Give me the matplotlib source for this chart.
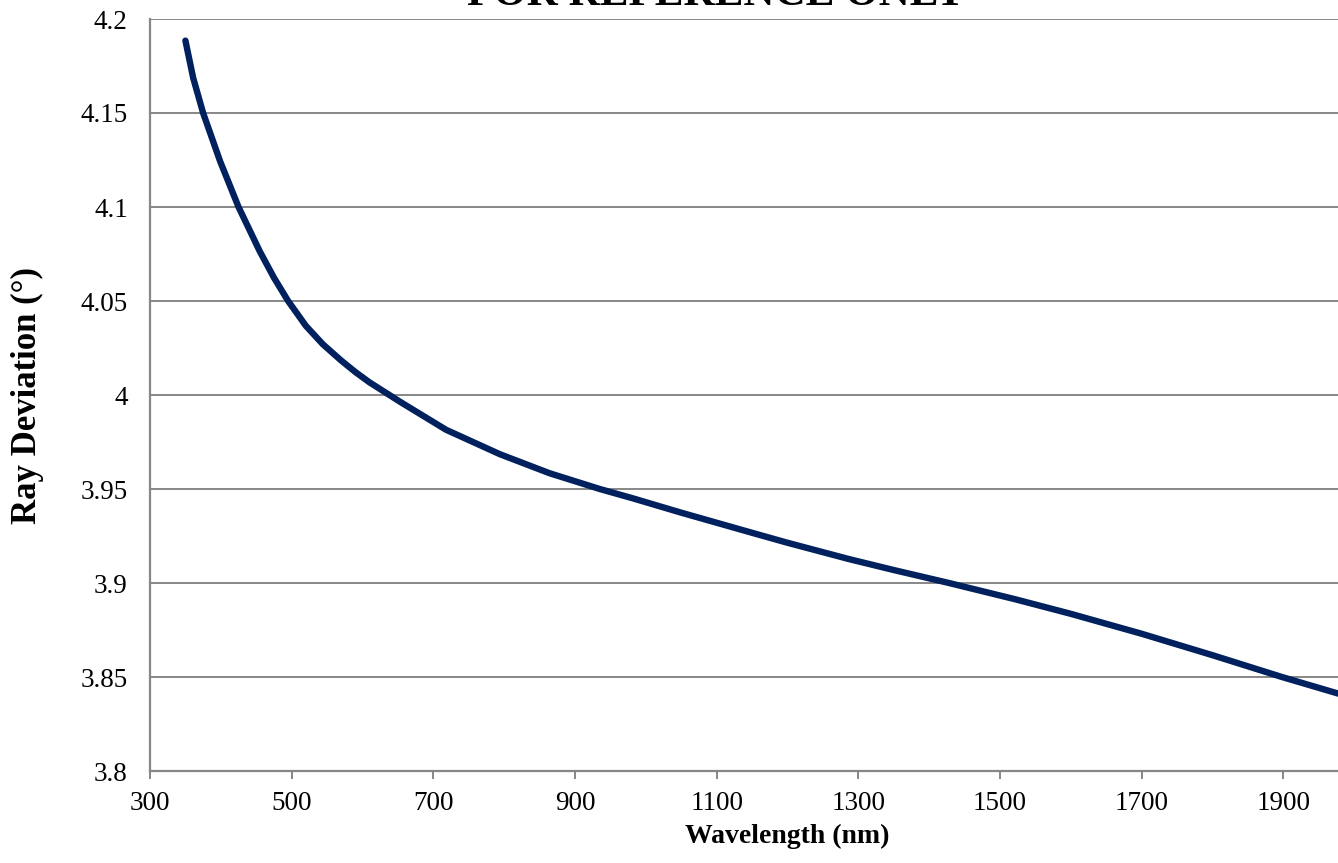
import matplotlib
matplotlib.use("Agg")
import matplotlib.pyplot as plt

# valores
wavelength = [350, 361, 375, 399, 425, 455, 475, 495, 520, 544, 570, 590, 610,
              638, 653, 718, 794, 864, 935, 982, 1050, 1150, 1200, 1287, 1350,
              1428, 1522, 1600, 1700, 1800, 1898, 1980]
deviation = [4.1885, 4.1686, 4.150, 4.1243, 4.100, 4.0764, 4.0624, 4.050,
             4.0368, 4.027, 4.0183, 4.0122, 4.0067, 4.000, 3.9964, 3.9815,
             3.9685, 3.9584, 3.950, 3.945, 3.9374, 3.9267, 3.9214, 3.9127,
             3.9069, 3.900, 3.8913, 3.8836, 3.873, 3.8616, 3.850, 3.8409]

x_ticks = [300, 500, 700, 900, 1100, 1300, 1500, 1700, 1900]
y_ticks = [3.8, 3.85, 3.9, 3.95, 4.0, 4.05, 4.1, 4.15, 4.2]
y_tick_labels = ["3.8", "3.85", "3.9", "3.95", "4", "4.05", "4.1", "4.15", "4.2"]

W, H = 1338, 863
AX_L, AX_T, AX_B = 150, 19, 771   # bordes del area de trazado en pixeles
AX_W = 1275                       # el area sigue mas alla del borde derecho
GRID = "#878787"
LINE = "#00215E"

plt.rcParams["font.family"] = ["Liberation Serif", "DejaVu Serif"]

fig = plt.figure(figsize=(W / 100, H / 100), dpi=100)
ax = fig.add_axes([AX_L / W, 1 - AX_B / H, AX_W / W, (AX_B - AX_T) / H])

ax.plot(wavelength, deviation, color=LINE, lw=4.6, solid_capstyle="round",
        solid_joinstyle="round", zorder=3)

ax.set_xlim(300, 2100)
ax.set_ylim(3.8, 4.2)
ax.set_xticks(x_ticks)
ax.set_yticks(y_ticks)
ax.set_yticklabels(y_tick_labels)

ax.yaxis.grid(True, color=GRID, lw=1.4)
ax.set_axisbelow(True)
for side in ["top", "right"]:
    ax.spines[side].set_visible(False)
for side in ["left", "bottom"]:
    ax.spines[side].set_color(GRID)
    ax.spines[side].set_linewidth(1.6)

ax.tick_params(axis="x", length=5.5, width=1.4, color=GRID, pad=9,
               labelsize=19.5)
ax.tick_params(axis="y", length=0, pad=16, labelsize=19.5)

# etiquetas de ejes colocadas en pixeles medidos sobre la referencia
ax.set_xlabel("Wavelength (nm)", fontsize=20, fontweight="bold")
ax.xaxis.label.set_va("baseline")
ax.xaxis.set_label_coords(0.5, (AX_B - 843) / (AX_B - AX_T))

ax.set_ylabel("Ray Deviation (°)", fontsize=25, fontweight="bold")
ax.yaxis.label.set_va("center")
ax.yaxis.set_label_coords((27 - AX_L) / AX_W, 0.5)

# titulo recortado en el borde superior, como en la imagen original
fig.text(716 / W, 1 - 5 / H, "FOR REFERENCE ONLY", fontsize=31,
         fontweight="bold", ha="center", va="baseline")

fig.savefig("out.png", dpi=100)
plt.close(fig)
